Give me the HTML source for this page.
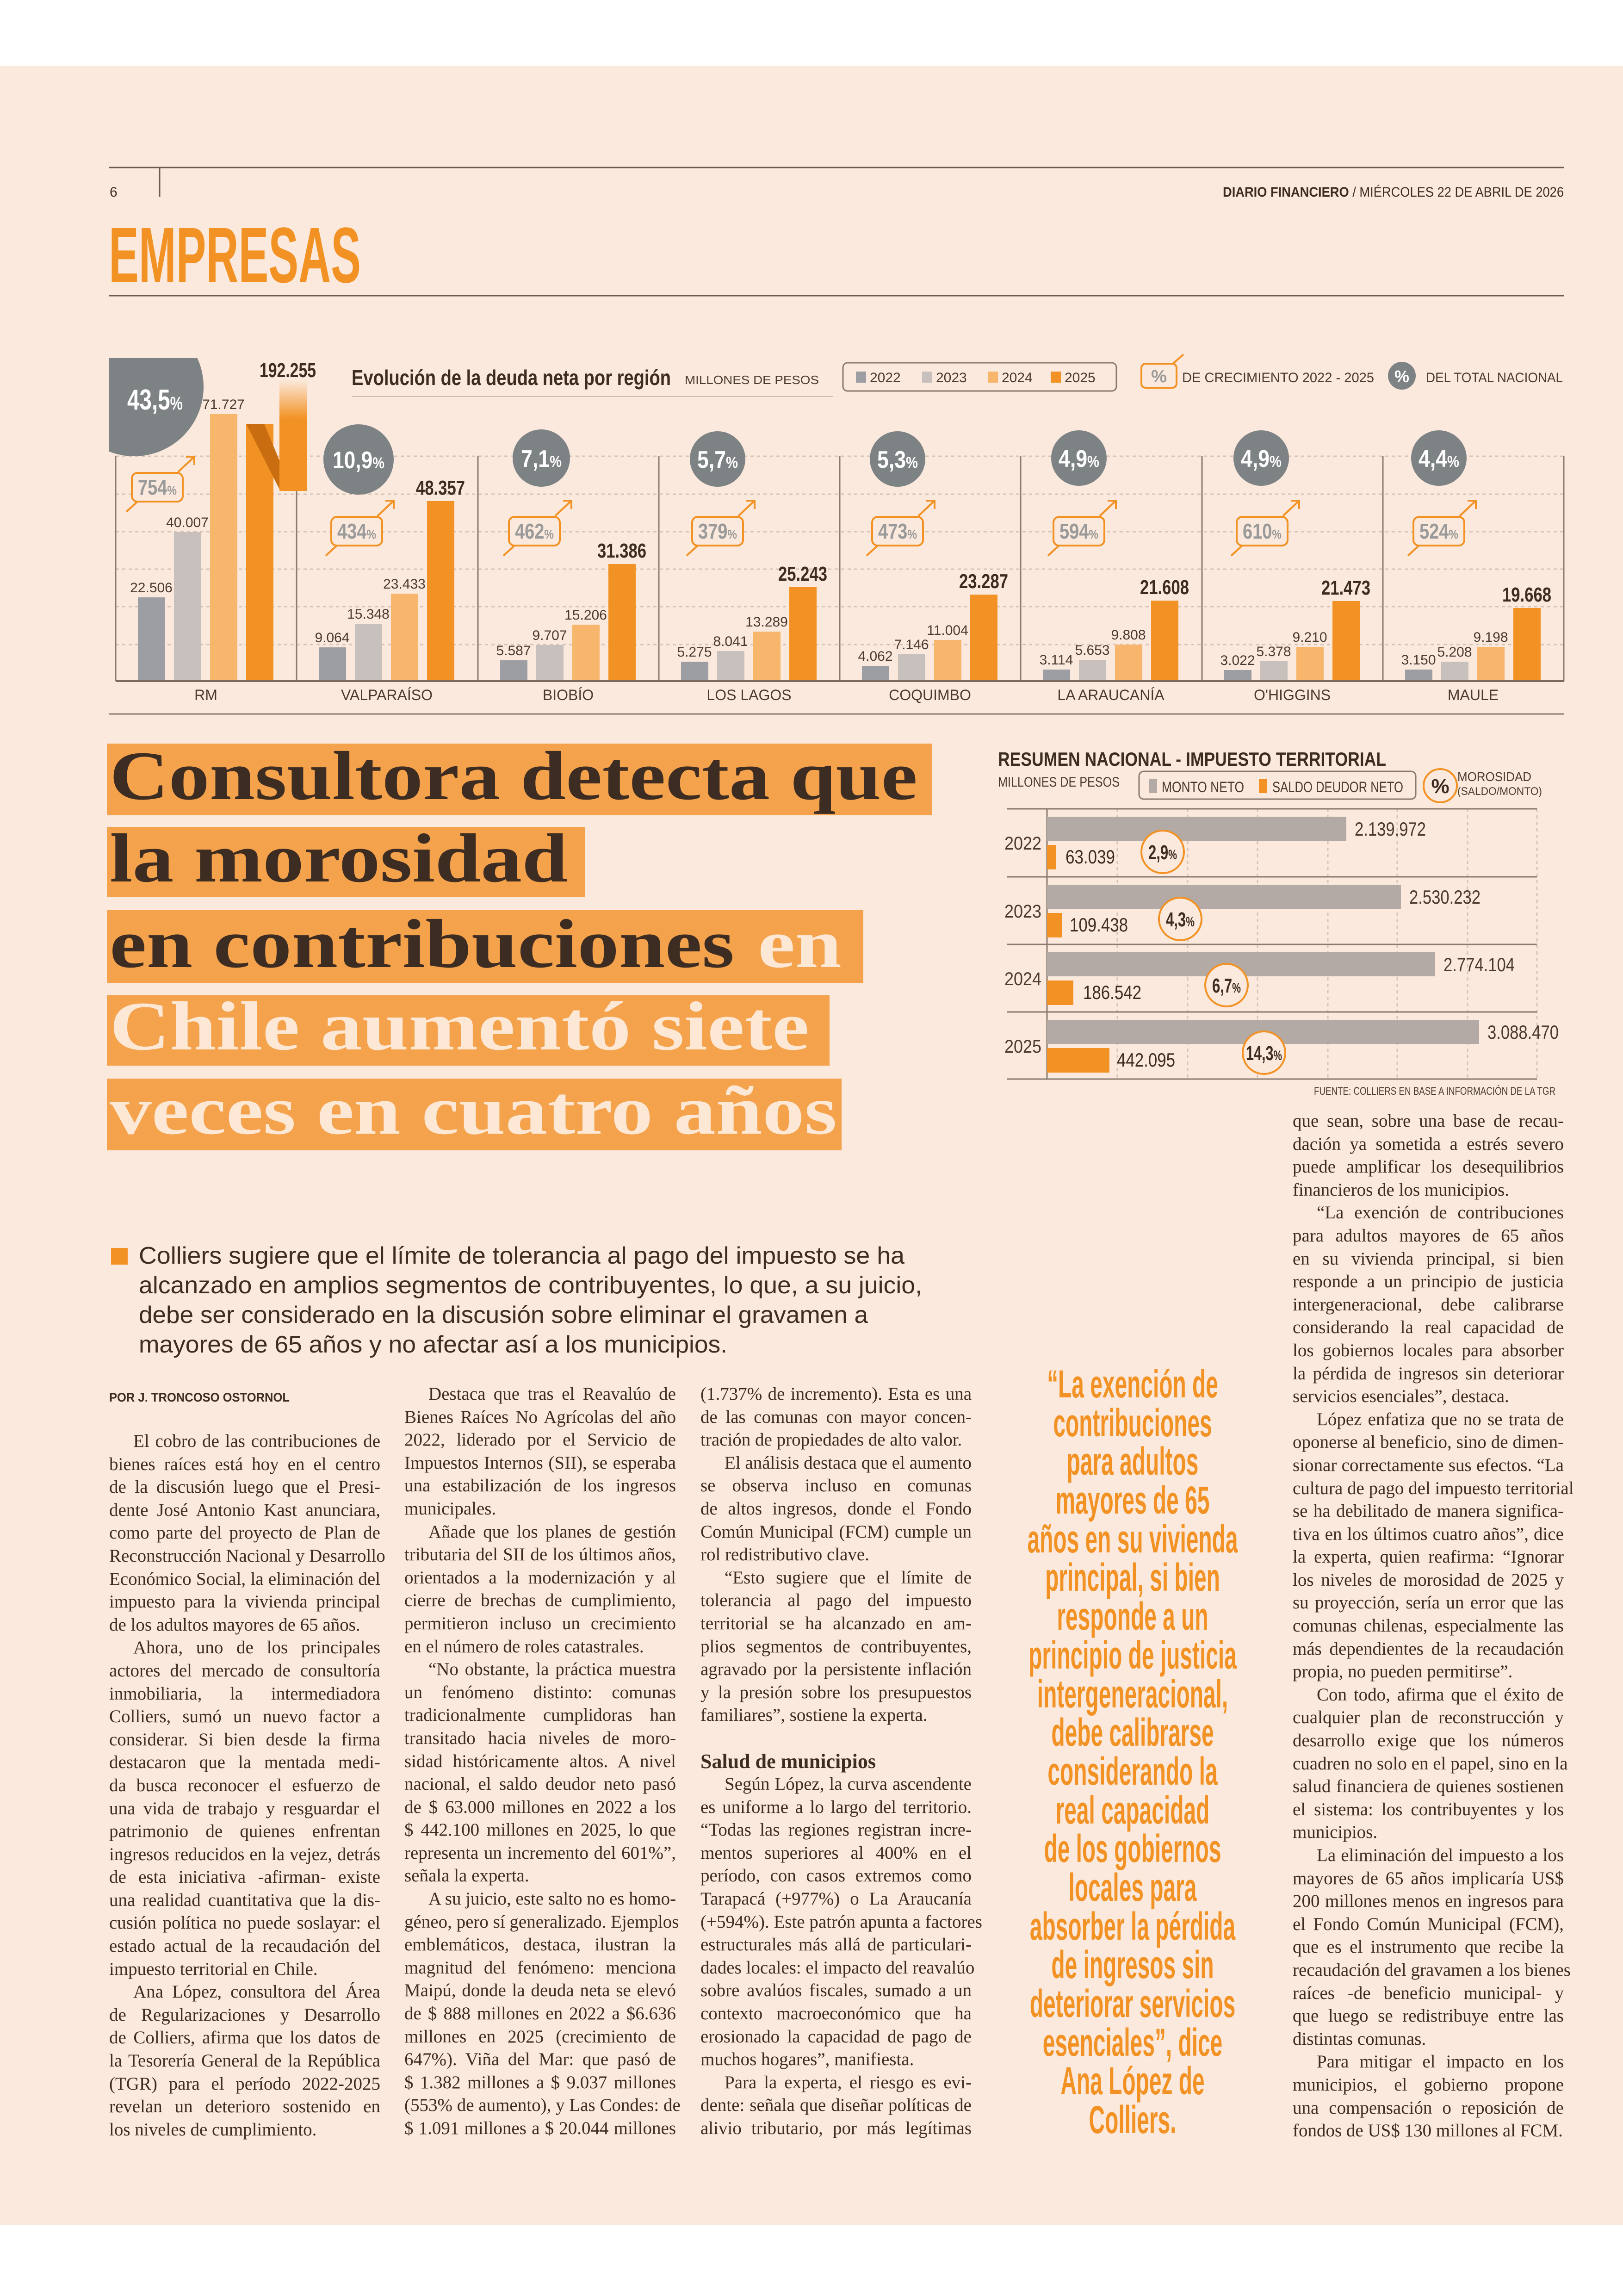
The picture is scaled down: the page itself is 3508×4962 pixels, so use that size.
<!DOCTYPE html>
<html><head><meta charset="utf-8">
<style>
html,body{margin:0;padding:0}
body{width:3508px;height:4962px;position:relative;background:#fff;overflow:hidden;font-family:"Liberation Serif",serif;color:#3d2c22}
.bg{position:absolute;left:0;top:142px;width:3508px;height:4666px;background:#fae9dc}
svg{position:absolute;left:0;top:0}
.col{position:absolute;font-family:"Liberation Serif",serif;font-size:39px;color:#3d2c22}
.col div{height:49.6px;line-height:49.6px;white-space:nowrap;text-align:justify;text-align-last:justify}
.col div.l{text-align-last:left}
.col div.i{padding-left:52px}
.col div.h{font-weight:bold;font-size:44px;text-align-last:left}
.col div.e{}
.q{position:absolute;left:1948px;top:2950px;width:1000px;transform:scaleX(0.57);transform-origin:500px 0;font-family:"Liberation Sans",sans-serif;font-weight:bold;font-size:84px;color:#f39224;text-align:center}
.q div{height:83.7px;line-height:83.7px;white-space:nowrap}
</style></head><body>
<div class="bg"></div>
<svg width="3508" height="4962" viewBox="0 0 3508 4962" xmlns="http://www.w3.org/2000/svg" font-family="Liberation Sans, sans-serif">
<defs>
<clipPath id="rmc"><rect x="235" y="774" width="320" height="320"/></clipPath>
<linearGradient id="fade" x1="0" y1="0" x2="0" y2="1"><stop offset="0" stop-color="#fae9dc"/><stop offset="0.35" stop-color="#f39224"/></linearGradient>
</defs>
<!-- header -->
<line x1="235" y1="362" x2="3380" y2="362" stroke="#6b5b50" stroke-width="3"/>
<line x1="345" y1="362" x2="345" y2="425" stroke="#6b5b50" stroke-width="3"/>
<text x="237" y="425" font-size="30" fill="#3d2c22">6</text>
<text x="3380" y="425" font-size="30" fill="#3d2c22" text-anchor="end" textLength="737" lengthAdjust="spacingAndGlyphs"><tspan font-weight="bold">DIARIO FINANCIERO</tspan> / MIÉRCOLES 22 DE ABRIL DE 2026</text>
<text x="235" y="610" font-size="170" font-weight="bold" fill="#f39224" textLength="545" lengthAdjust="spacingAndGlyphs">EMPRESAS</text>
<line x1="235" y1="639" x2="3380" y2="639" stroke="#6b5b50" stroke-width="3"/>

<!-- legend top chart -->
<text x="760" y="832" font-size="46" font-weight="bold" fill="#3d2c22" textLength="690" lengthAdjust="spacingAndGlyphs">Evolución de la deuda neta por región</text>
<line x1="760" y1="857" x2="1800" y2="857" stroke="#cdbcb0" stroke-width="2"/>
<text x="1480" y="830" font-size="26" fill="#4a3a30" textLength="290" lengthAdjust="spacingAndGlyphs">MILLONES DE PESOS</text>
<rect x="1822" y="784" width="591" height="61" rx="10" fill="none" stroke="#8a7a70" stroke-width="3"/>
<rect x="1850" y="803" width="22" height="24" fill="#9c9ea3"/><text x="1880" y="826" font-size="30" fill="#4a3a30">2022</text>
<rect x="1993" y="803" width="22" height="24" fill="#c8c0bc"/><text x="2023" y="826" font-size="30" fill="#4a3a30">2023</text>
<rect x="2135" y="803" width="22" height="24" fill="#f7b66c"/><text x="2165" y="826" font-size="30" fill="#4a3a30">2024</text>
<rect x="2271" y="803" width="22" height="24" fill="#f39224"/><text x="2301" y="826" font-size="30" fill="#4a3a30">2025</text>
<rect x="2467" y="786" width="76" height="52" rx="9" fill="none" stroke="#f39224" stroke-width="4"/>
<text x="2505" y="826" font-size="38" font-weight="bold" fill="#9a9a9a" text-anchor="middle">%</text>
<line x1="2535" y1="786" x2="2558" y2="766" stroke="#f39224" stroke-width="4"/>
<text x="2555" y="826" font-size="30" fill="#4a3a30" textLength="415" lengthAdjust="spacingAndGlyphs">DE CRECIMIENTO 2022 - 2025</text>
<circle cx="3030" cy="812" r="30" fill="#7d8285"/>
<text x="3030" y="826" font-size="36" font-weight="bold" fill="#fff" text-anchor="middle">%</text>
<text x="3082" y="826" font-size="30" fill="#4a3a30" textLength="296" lengthAdjust="spacingAndGlyphs">DEL TOTAL NACIONAL</text>

<!-- grid -->
<g stroke="#d6c4b6" stroke-width="3" stroke-dasharray="7 7">
<line x1="250" y1="986" x2="3380" y2="986"/><line x1="250" y1="1068" x2="3380" y2="1068"/>
<line x1="250" y1="1149" x2="3380" y2="1149"/><line x1="250" y1="1230" x2="3380" y2="1230"/>
<line x1="250" y1="1311" x2="3380" y2="1311"/><line x1="250" y1="1393" x2="3380" y2="1393"/>
</g>
<g stroke="#8a7a70" stroke-width="3">
<line x1="250" y1="986" x2="250" y2="1472"/><line x1="641" y1="986" x2="641" y2="1472"/>
<line x1="1033" y1="986" x2="1033" y2="1472"/><line x1="1424" y1="986" x2="1424" y2="1472"/>
<line x1="1815" y1="986" x2="1815" y2="1472"/><line x1="2206" y1="986" x2="2206" y2="1472"/>
<line x1="2598" y1="986" x2="2598" y2="1472"/><line x1="2989" y1="986" x2="2989" y2="1472"/>
<line x1="3380" y1="986" x2="3380" y2="1472"/>
</g>

<!-- RM circle -->
<circle cx="290" cy="836" r="150" fill="#7d8285" clip-path="url(#rmc)"/>
<text x="335" y="885" font-size="62" font-weight="bold" fill="#fff" text-anchor="middle" textLength="120" lengthAdjust="spacingAndGlyphs">43,5<tspan font-size="40">%</tspan></text>

<!-- bars -->
<g>
<!-- RM 250 -->
<rect x="298" y="1291" width="59" height="181" fill="#9c9ea3"/>
<rect x="376" y="1150" width="59" height="322" fill="#c8c0bc"/>
<rect x="454" y="895" width="59" height="577" fill="#f7b66c"/>
<rect x="532" y="916" width="59" height="556" fill="#f39224"/>
<polygon points="532,916 571,916 606,1000 606,1061" fill="#c96e10"/>
<rect x="604" y="821" width="60" height="240" fill="url(#fade)"/>
<!-- Valp 641 -->
<rect x="689" y="1399" width="59" height="73" fill="#9c9ea3"/>
<rect x="767" y="1348" width="59" height="124" fill="#c8c0bc"/>
<rect x="845" y="1283" width="59" height="189" fill="#f7b66c"/>
<rect x="923" y="1083" width="59" height="389" fill="#f39224"/>
<!-- Bio 1033 -->
<rect x="1081" y="1427" width="59" height="45" fill="#9c9ea3"/>
<rect x="1159" y="1394" width="59" height="78" fill="#c8c0bc"/>
<rect x="1237" y="1350" width="59" height="122" fill="#f7b66c"/>
<rect x="1315" y="1219" width="59" height="253" fill="#f39224"/>
<!-- LL 1424 -->
<rect x="1472" y="1430" width="59" height="42" fill="#9c9ea3"/>
<rect x="1550" y="1407" width="59" height="65" fill="#c8c0bc"/>
<rect x="1628" y="1365" width="59" height="107" fill="#f7b66c"/>
<rect x="1706" y="1269" width="59" height="203" fill="#f39224"/>
<!-- Coq 1815 -->
<rect x="1863" y="1439" width="59" height="33" fill="#9c9ea3"/>
<rect x="1941" y="1414" width="59" height="58" fill="#c8c0bc"/>
<rect x="2019" y="1383" width="59" height="89" fill="#f7b66c"/>
<rect x="2097" y="1285" width="59" height="187" fill="#f39224"/>
<!-- Ara 2206 -->
<rect x="2254" y="1447" width="59" height="25" fill="#9c9ea3"/>
<rect x="2332" y="1426" width="59" height="46" fill="#c8c0bc"/>
<rect x="2410" y="1393" width="59" height="79" fill="#f7b66c"/>
<rect x="2488" y="1298" width="59" height="174" fill="#f39224"/>
<!-- OH 2598 -->
<rect x="2646" y="1448" width="59" height="24" fill="#9c9ea3"/>
<rect x="2724" y="1429" width="59" height="43" fill="#c8c0bc"/>
<rect x="2802" y="1398" width="59" height="74" fill="#f7b66c"/>
<rect x="2880" y="1299" width="59" height="173" fill="#f39224"/>
<!-- Maule 2989 -->
<rect x="3037" y="1447" width="59" height="25" fill="#9c9ea3"/>
<rect x="3115" y="1430" width="59" height="42" fill="#c8c0bc"/>
<rect x="3193" y="1398" width="59" height="74" fill="#f7b66c"/>
<rect x="3271" y="1314" width="59" height="158" fill="#f39224"/>
</g>
<line x1="250" y1="1472" x2="3380" y2="1472" stroke="#7a6a60" stroke-width="4"/>

<!-- value labels -->
<g font-size="30" fill="#4a3a30" text-anchor="middle">
<text x="327" y="1280">22.506</text><text x="405" y="1139">40.007</text><text x="483" y="884">71.727</text>
<text x="718" y="1388">9.064</text><text x="796" y="1337">15.348</text><text x="874" y="1272">23.433</text>
<text x="1110" y="1416">5.587</text><text x="1188" y="1383">9.707</text><text x="1266" y="1339">15.206</text>
<text x="1501" y="1419">5.275</text><text x="1579" y="1396">8.041</text><text x="1657" y="1354">13.289</text>
<text x="1892" y="1428">4.062</text><text x="1970" y="1403">7.146</text><text x="2048" y="1372">11.004</text>
<text x="2283" y="1436">3.114</text><text x="2361" y="1415">5.653</text><text x="2439" y="1382">9.808</text>
<text x="2675" y="1437">3.022</text><text x="2753" y="1418">5.378</text><text x="2831" y="1387">9.210</text>
<text x="3066" y="1436">3.150</text><text x="3144" y="1419">5.208</text><text x="3222" y="1387">9.198</text>
</g>
<g font-size="44" font-weight="bold" fill="#3d2c22" text-anchor="middle">
<text x="622" y="815" textLength="122" lengthAdjust="spacingAndGlyphs">192.255</text>
<text x="952" y="1069" textLength="106" lengthAdjust="spacingAndGlyphs">48.357</text>
<text x="1344" y="1205" textLength="106" lengthAdjust="spacingAndGlyphs">31.386</text>
<text x="1735" y="1255" textLength="106" lengthAdjust="spacingAndGlyphs">25.243</text>
<text x="2126" y="1271" textLength="106" lengthAdjust="spacingAndGlyphs">23.287</text>
<text x="2517" y="1284" textLength="106" lengthAdjust="spacingAndGlyphs">21.608</text>
<text x="2909" y="1285" textLength="106" lengthAdjust="spacingAndGlyphs">21.473</text>
<text x="3300" y="1300" textLength="106" lengthAdjust="spacingAndGlyphs">19.668</text>
</g>
<g font-size="32" fill="#4a3a30" text-anchor="middle">
<text x="445" y="1513">RM</text><text x="836" y="1513">VALPARAÍSO</text><text x="1228" y="1513">BIOBÍO</text>
<text x="1619" y="1513">LOS LAGOS</text><text x="2010" y="1513">COQUIMBO</text><text x="2401" y="1513">LA ARAUCANÍA</text>
<text x="2793" y="1513">O'HIGGINS</text><text x="3184" y="1513">MAULE</text>
</g>

<!-- region circles -->
<g fill="#7d8285">
<circle cx="775" cy="993" r="76"/><circle cx="1170" cy="990" r="62"/><circle cx="1551" cy="992" r="60"/>
<circle cx="1940" cy="992" r="60"/><circle cx="2332" cy="990" r="60"/><circle cx="2726" cy="990" r="60"/><circle cx="3110" cy="990" r="60"/>
</g>
<g font-size="52" font-weight="bold" fill="#fff" text-anchor="middle">
<text x="775" y="1012" textLength="112" lengthAdjust="spacingAndGlyphs">10,9<tspan font-size="34">%</tspan></text>
<text x="1170" y="1009" textLength="88" lengthAdjust="spacingAndGlyphs">7,1<tspan font-size="34">%</tspan></text>
<text x="1551" y="1011" textLength="88" lengthAdjust="spacingAndGlyphs">5,7<tspan font-size="34">%</tspan></text>
<text x="1940" y="1011" textLength="88" lengthAdjust="spacingAndGlyphs">5,3<tspan font-size="34">%</tspan></text>
<text x="2332" y="1009" textLength="88" lengthAdjust="spacingAndGlyphs">4,9<tspan font-size="34">%</tspan></text>
<text x="2726" y="1009" textLength="88" lengthAdjust="spacingAndGlyphs">4,9<tspan font-size="34">%</tspan></text>
<text x="3110" y="1009" textLength="88" lengthAdjust="spacingAndGlyphs">4,4<tspan font-size="34">%</tspan></text>
</g>

<!-- growth badges -->
<g id="badges" font-size="46" font-weight="bold" fill="#9a9a9a" text-anchor="middle">
<g transform="translate(285,1022)"><rect width="110" height="62" rx="12" fill="#fae9dc" stroke="#f39224" stroke-width="4"/><text x="55" y="47" textLength="84" lengthAdjust="spacingAndGlyphs">754<tspan font-size="28">%</tspan></text><path d="M100 -2 L135 -35 M117 -35 L135 -35 L135 -17 M12 62 L-12 84" stroke="#f39224" stroke-width="4" fill="none"/></g>
<g transform="translate(716,1117)"><rect width="110" height="62" rx="12" fill="#fae9dc" stroke="#f39224" stroke-width="4"/><text x="55" y="47" textLength="84" lengthAdjust="spacingAndGlyphs">434<tspan font-size="28">%</tspan></text><path d="M100 -2 L135 -35 M117 -35 L135 -35 L135 -17 M12 62 L-12 84" stroke="#f39224" stroke-width="4" fill="none"/></g>
<g transform="translate(1100,1117)"><rect width="110" height="62" rx="12" fill="#fae9dc" stroke="#f39224" stroke-width="4"/><text x="55" y="47" textLength="84" lengthAdjust="spacingAndGlyphs">462<tspan font-size="28">%</tspan></text><path d="M100 -2 L135 -35 M117 -35 L135 -35 L135 -17 M12 62 L-12 84" stroke="#f39224" stroke-width="4" fill="none"/></g>
<g transform="translate(1496,1117)"><rect width="110" height="62" rx="12" fill="#fae9dc" stroke="#f39224" stroke-width="4"/><text x="55" y="47" textLength="84" lengthAdjust="spacingAndGlyphs">379<tspan font-size="28">%</tspan></text><path d="M100 -2 L135 -35 M117 -35 L135 -35 L135 -17 M12 62 L-12 84" stroke="#f39224" stroke-width="4" fill="none"/></g>
<g transform="translate(1885,1117)"><rect width="110" height="62" rx="12" fill="#fae9dc" stroke="#f39224" stroke-width="4"/><text x="55" y="47" textLength="84" lengthAdjust="spacingAndGlyphs">473<tspan font-size="28">%</tspan></text><path d="M100 -2 L135 -35 M117 -35 L135 -35 L135 -17 M12 62 L-12 84" stroke="#f39224" stroke-width="4" fill="none"/></g>
<g transform="translate(2277,1117)"><rect width="110" height="62" rx="12" fill="#fae9dc" stroke="#f39224" stroke-width="4"/><text x="55" y="47" textLength="84" lengthAdjust="spacingAndGlyphs">594<tspan font-size="28">%</tspan></text><path d="M100 -2 L135 -35 M117 -35 L135 -35 L135 -17 M12 62 L-12 84" stroke="#f39224" stroke-width="4" fill="none"/></g>
<g transform="translate(2673,1117)"><rect width="110" height="62" rx="12" fill="#fae9dc" stroke="#f39224" stroke-width="4"/><text x="55" y="47" textLength="84" lengthAdjust="spacingAndGlyphs">610<tspan font-size="28">%</tspan></text><path d="M100 -2 L135 -35 M117 -35 L135 -35 L135 -17 M12 62 L-12 84" stroke="#f39224" stroke-width="4" fill="none"/></g>
<g transform="translate(3055,1117)"><rect width="110" height="62" rx="12" fill="#fae9dc" stroke="#f39224" stroke-width="4"/><text x="55" y="47" textLength="84" lengthAdjust="spacingAndGlyphs">524<tspan font-size="28">%</tspan></text><path d="M100 -2 L135 -35 M117 -35 L135 -35 L135 -17 M12 62 L-12 84" stroke="#f39224" stroke-width="4" fill="none"/></g>
</g>
<line x1="235" y1="1543" x2="3380" y2="1543" stroke="#8a7a70" stroke-width="3"/>

<!-- headline -->
<g fill="#f5a24d">
<rect x="231" y="1607" width="1784" height="155"/>
<rect x="231" y="1787" width="1034" height="152"/>
<rect x="231" y="1967" width="1635" height="158"/>
<rect x="231" y="2151" width="1562" height="152"/>
<rect x="231" y="2331" width="1588" height="155"/>
</g>
<g font-family="Liberation Serif, serif" font-size="150" font-weight="bold" lengthAdjust="spacingAndGlyphs">
<text x="237" y="1727" fill="#3d2c22" textLength="1746" lengthAdjust="spacingAndGlyphs">Consultora detecta que</text>
<text x="237" y="1905" fill="#3d2c22" textLength="990" lengthAdjust="spacingAndGlyphs">la morosidad</text>
<text x="237" y="2090" fill="#3d2c22" textLength="1350" lengthAdjust="spacingAndGlyphs">en contribuciones</text>
<text x="1638" y="2090" fill="#fde8d6" textLength="181" lengthAdjust="spacingAndGlyphs">en</text>
<text x="237" y="2268" fill="#fde8d6" textLength="1512" lengthAdjust="spacingAndGlyphs">Chile aumentó siete</text>
<text x="237" y="2450" fill="#fde8d6" textLength="1572" lengthAdjust="spacingAndGlyphs">veces en cuatro años</text>
</g>

<!-- summary chart -->
<text x="2157" y="1655" font-size="42" font-weight="bold" fill="#3d2c22" textLength="839" lengthAdjust="spacingAndGlyphs">RESUMEN NACIONAL - IMPUESTO TERRITORIAL</text>
<text x="2157" y="1700" font-size="30" fill="#4a3a30" textLength="263" lengthAdjust="spacingAndGlyphs">MILLONES DE PESOS</text>
<rect x="2462" y="1667" width="598" height="60" rx="10" fill="none" stroke="#8a7a70" stroke-width="3"/>
<rect x="2483" y="1684" width="18" height="30" fill="#b3aaa6"/>
<text x="2511" y="1712" font-size="32" fill="#4a3a30" textLength="178" lengthAdjust="spacingAndGlyphs">MONTO NETO</text>
<rect x="2721" y="1684" width="18" height="30" fill="#f39224"/>
<text x="2750" y="1712" font-size="32" fill="#4a3a30" textLength="283" lengthAdjust="spacingAndGlyphs">SALDO DEUDOR NETO</text>
<circle cx="3113" cy="1698" r="36" fill="none" stroke="#f39224" stroke-width="4"/>
<text x="3113" y="1714" font-size="44" font-weight="bold" fill="#3d2c22" text-anchor="middle">%</text>
<text x="3150" y="1688" font-size="28" fill="#4a3a30" textLength="160" lengthAdjust="spacingAndGlyphs">MOROSIDAD</text>
<text x="3150" y="1718" font-size="24" fill="#4a3a30" textLength="183" lengthAdjust="spacingAndGlyphs">(SALDO/MONTO)</text>
<g stroke="#d6c4b6" stroke-width="3" stroke-dasharray="7 7">
<line x1="2415" y1="1748" x2="2415" y2="2332"/><line x1="2567" y1="1748" x2="2567" y2="2332"/>
<line x1="2718" y1="1748" x2="2718" y2="2332"/><line x1="2870" y1="1748" x2="2870" y2="2332"/>
<line x1="3020" y1="1748" x2="3020" y2="2332"/><line x1="3172" y1="1748" x2="3172" y2="2332"/>
<line x1="3322" y1="1748" x2="3322" y2="2332"/>
</g>
<g stroke="#8a7a70" stroke-width="3">
<line x1="2176" y1="1748" x2="3322" y2="1748"/><line x1="2176" y1="1895" x2="3322" y2="1895"/>
<line x1="2176" y1="2041" x2="3322" y2="2041"/><line x1="2176" y1="2187" x2="3322" y2="2187"/>
<line x1="2176" y1="2332" x2="3322" y2="2332"/><line x1="2263" y1="1748" x2="2263" y2="2332"/>
</g>
<g fill="#b3aaa6">
<rect x="2263" y="1765" width="647" height="52"/><rect x="2263" y="1912" width="765" height="52"/>
<rect x="2263" y="2058" width="839" height="52"/><rect x="2263" y="2204" width="934" height="52"/>
</g>
<g fill="#f39224">
<rect x="2263" y="1826" width="19" height="53"/><rect x="2263" y="1973" width="33" height="53"/>
<rect x="2263" y="2119" width="57" height="53"/><rect x="2263" y="2265" width="135" height="53"/>
</g>
<g font-size="40" fill="#4a3a30">
<text x="2171" y="1836" textLength="80" lengthAdjust="spacingAndGlyphs">2022</text>
<text x="2171" y="1983" textLength="80" lengthAdjust="spacingAndGlyphs">2023</text>
<text x="2171" y="2129" textLength="80" lengthAdjust="spacingAndGlyphs">2024</text>
<text x="2171" y="2275" textLength="80" lengthAdjust="spacingAndGlyphs">2025</text>
</g>
<g font-size="42" fill="#4a3a30">
<text x="2928" y="1806" textLength="154" lengthAdjust="spacingAndGlyphs">2.139.972</text>
<text x="3046" y="1953" textLength="154" lengthAdjust="spacingAndGlyphs">2.530.232</text>
<text x="3120" y="2099" textLength="154" lengthAdjust="spacingAndGlyphs">2.774.104</text>
<text x="3215" y="2245" textLength="154" lengthAdjust="spacingAndGlyphs">3.088.470</text>
</g>
<g font-size="42" fill="#3d2c22">
<text x="2303" y="1866" textLength="107" lengthAdjust="spacingAndGlyphs">63.039</text>
<text x="2312" y="2013" textLength="126" lengthAdjust="spacingAndGlyphs">109.438</text>
<text x="2341" y="2159" textLength="126" lengthAdjust="spacingAndGlyphs">186.542</text>
<text x="2414" y="2305" textLength="126" lengthAdjust="spacingAndGlyphs">442.095</text>
</g>
<g fill="#fae9dc" stroke="#f39224" stroke-width="4">
<circle cx="2513" cy="1841" r="46"/><circle cx="2551" cy="1986" r="46"/>
<circle cx="2651" cy="2129" r="46"/><circle cx="2732" cy="2275" r="46"/>
</g>
<g font-size="44" font-weight="bold" fill="#3d2c22" text-anchor="middle">
<text x="2513" y="1857" textLength="62" lengthAdjust="spacingAndGlyphs">2,9<tspan font-size="30">%</tspan></text>
<text x="2551" y="2002" textLength="62" lengthAdjust="spacingAndGlyphs">4,3<tspan font-size="30">%</tspan></text>
<text x="2651" y="2145" textLength="62" lengthAdjust="spacingAndGlyphs">6,7<tspan font-size="30">%</tspan></text>
<text x="2732" y="2291" textLength="78" lengthAdjust="spacingAndGlyphs">14,3<tspan font-size="30">%</tspan></text>
</g>
<text x="3362" y="2366" font-size="24" fill="#4a3a30" text-anchor="end" textLength="522" lengthAdjust="spacingAndGlyphs">FUENTE: COLLIERS EN BASE A INFORMACIÓN DE LA TGR</text>

<!-- deck -->
<rect x="240" y="2697" width="36" height="36" fill="#f39224"/>
<g font-size="52" fill="#3d2c22">
<text x="300" y="2731" textLength="1655" lengthAdjust="spacingAndGlyphs">Colliers sugiere que el límite de tolerancia al pago del impuesto se ha</text>
<text x="300" y="2795" textLength="1693" lengthAdjust="spacingAndGlyphs">alcanzado en amplios segmentos de contribuyentes, lo que, a su juicio,</text>
<text x="300" y="2859" textLength="1576" lengthAdjust="spacingAndGlyphs">debe ser considerado en la discusión sobre eliminar el gravamen a</text>
<text x="300" y="2923" textLength="1272" lengthAdjust="spacingAndGlyphs">mayores de 65 años y no afectar así a los municipios.</text>
</g>
<text x="236" y="3029" font-size="27" font-weight="bold" fill="#3d2c22" textLength="390" lengthAdjust="spacingAndGlyphs">POR J. TRONCOSO OSTORNOL</text>
</svg>

<div class="col" style="left:236px;top:3090px;width:586px">
<div class="i">El cobro de las contribuciones de</div>
<div>bienes raíces está hoy en el centro</div>
<div>de la discusión luego que el Presi-</div>
<div>dente José Antonio Kast anunciara,</div>
<div>como parte del proyecto de Plan de</div>
<div>Reconstrucción Nacional y Desarrollo</div>
<div>Económico Social, la eliminación del</div>
<div>impuesto para la vivienda principal</div>
<div class="l">de los adultos mayores de 65 años.</div>
<div class="i">Ahora, uno de los principales</div>
<div>actores del mercado de consultoría</div>
<div>inmobiliaria, la intermediadora</div>
<div>Colliers, sumó un nuevo factor a</div>
<div>considerar. Si bien desde la firma</div>
<div>destacaron que la mentada medi-</div>
<div>da busca reconocer el esfuerzo de</div>
<div>una vida de trabajo y resguardar el</div>
<div>patrimonio de quienes enfrentan</div>
<div>ingresos reducidos en la vejez, detrás</div>
<div>de esta iniciativa -afirman- existe</div>
<div>una realidad cuantitativa que la dis-</div>
<div>cusión política no puede soslayar: el</div>
<div>estado actual de la recaudación del</div>
<div class="l">impuesto territorial en Chile.</div>
<div class="i">Ana López, consultora del Área</div>
<div>de Regularizaciones y Desarrollo</div>
<div>de Colliers, afirma que los datos de</div>
<div>la Tesorería General de la República</div>
<div>(TGR) para el período 2022-2025</div>
<div>revelan un deterioro sostenido en</div>
<div class="l">los niveles de cumplimiento.</div>
</div>

<div class="col" style="left:874px;top:2988px;width:587px">
<div class="i">Destaca que tras el Reavalúo de</div>
<div>Bienes Raíces No Agrícolas del año</div>
<div>2022, liderado por el Servicio de</div>
<div>Impuestos Internos (SII), se esperaba</div>
<div>una estabilización de los ingresos</div>
<div class="l">municipales.</div>
<div class="i">Añade que los planes de gestión</div>
<div>tributaria del SII de los últimos años,</div>
<div>orientados a la modernización y al</div>
<div>cierre de brechas de cumplimiento,</div>
<div>permitieron incluso un crecimiento</div>
<div class="l">en el número de roles catastrales.</div>
<div class="i">“No obstante, la práctica muestra</div>
<div>un fenómeno distinto: comunas</div>
<div>tradicionalmente cumplidoras han</div>
<div>transitado hacia niveles de moro-</div>
<div>sidad históricamente altos. A nivel</div>
<div>nacional, el saldo deudor neto pasó</div>
<div>de $ 63.000 millones en 2022 a los</div>
<div>$ 442.100 millones en 2025, lo que</div>
<div>representa un incremento del 601%”,</div>
<div class="l">señala la experta.</div>
<div class="i">A su juicio, este salto no es homo-</div>
<div>géneo, pero sí generalizado. Ejemplos</div>
<div>emblemáticos, destaca, ilustran la</div>
<div>magnitud del fenómeno: menciona</div>
<div>Maipú, donde la deuda neta se elevó</div>
<div>de $ 888 millones en 2022 a $6.636</div>
<div>millones en 2025 (crecimiento de</div>
<div>647%). Viña del Mar: que pasó de</div>
<div>$ 1.382 millones a $ 9.037 millones</div>
<div>(553% de aumento), y Las Condes: de</div>
<div>$ 1.091 millones a $ 20.044 millones</div>
</div>

<div class="col" style="left:1514px;top:2988px;width:586px">
<div>(1.737% de incremento). Esta es una</div>
<div>de las comunas con mayor concen-</div>
<div class="l">tración de propiedades de alto valor.</div>
<div class="i">El análisis destaca que el aumento</div>
<div>se observa incluso en comunas</div>
<div>de altos ingresos, donde el Fondo</div>
<div>Común Municipal (FCM) cumple un</div>
<div class="l">rol redistributivo clave.</div>
<div class="i">“Esto sugiere que el límite de</div>
<div>tolerancia al pago del impuesto</div>
<div>territorial se ha alcanzado en am-</div>
<div>plios segmentos de contribuyentes,</div>
<div>agravado por la persistente inflación</div>
<div>y la presión sobre los presupuestos</div>
<div class="l">familiares”, sostiene la experta.</div>
<div class="l"></div>
<div class="h">Salud de municipios</div>
<div class="i">Según López, la curva ascendente</div>
<div>es uniforme a lo largo del territorio.</div>
<div>“Todas las regiones registran incre-</div>
<div>mentos superiores al 400% en el</div>
<div>período, con casos extremos como</div>
<div>Tarapacá (+977%) o La Araucanía</div>
<div>(+594%). Este patrón apunta a factores</div>
<div>estructurales más allá de particulari-</div>
<div>dades locales: el impacto del reavalúo</div>
<div>sobre avalúos fiscales, sumado a un</div>
<div>contexto macroeconómico que ha</div>
<div>erosionado la capacidad de pago de</div>
<div class="l">muchos hogares”, manifiesta.</div>
<div class="i">Para la experta, el riesgo es evi-</div>
<div>dente: señala que diseñar políticas de</div>
<div>alivio tributario, por más legítimas</div>
</div>

<div class="q">
<div>“La exención de</div>
<div>contribuciones</div>
<div>para adultos</div>
<div>mayores de 65</div>
<div>años en su vivienda</div>
<div>principal, si bien</div>
<div>responde a un</div>
<div>principio de justicia</div>
<div>intergeneracional,</div>
<div>debe calibrarse</div>
<div>considerando la</div>
<div>real capacidad</div>
<div>de los gobiernos</div>
<div>locales para</div>
<div>absorber la pérdida</div>
<div>de ingresos sin</div>
<div>deteriorar servicios</div>
<div>esenciales”, dice</div>
<div>Ana López de</div>
<div>Colliers.</div>
</div>

<div class="col" style="left:2794px;top:2398px;width:586px">
<div>que sean, sobre una base de recau-</div>
<div>dación ya sometida a estrés severo</div>
<div>puede amplificar los desequilibrios</div>
<div class="l">financieros de los municipios.</div>
<div class="i">“La exención de contribuciones</div>
<div>para adultos mayores de 65 años</div>
<div>en su vivienda principal, si bien</div>
<div>responde a un principio de justicia</div>
<div>intergeneracional, debe calibrarse</div>
<div>considerando la real capacidad de</div>
<div>los gobiernos locales para absorber</div>
<div>la pérdida de ingresos sin deteriorar</div>
<div class="l">servicios esenciales”, destaca.</div>
<div class="i">López enfatiza que no se trata de</div>
<div>oponerse al beneficio, sino de dimen-</div>
<div>sionar correctamente sus efectos. “La</div>
<div>cultura de pago del impuesto territorial</div>
<div>se ha debilitado de manera significa-</div>
<div>tiva en los últimos cuatro años”, dice</div>
<div>la experta, quien reafirma: “Ignorar</div>
<div>los niveles de morosidad de 2025 y</div>
<div>su proyección, sería un error que las</div>
<div>comunas chilenas, especialmente las</div>
<div>más dependientes de la recaudación</div>
<div class="l">propia, no pueden permitirse”.</div>
<div class="i">Con todo, afirma que el éxito de</div>
<div>cualquier plan de reconstrucción y</div>
<div>desarrollo exige que los números</div>
<div>cuadren no solo en el papel, sino en la</div>
<div>salud financiera de quienes sostienen</div>
<div>el sistema: los contribuyentes y los</div>
<div class="l">municipios.</div>
<div class="i">La eliminación del impuesto a los</div>
<div>mayores de 65 años implicaría US$</div>
<div>200 millones menos en ingresos para</div>
<div>el Fondo Común Municipal (FCM),</div>
<div>que es el instrumento que recibe la</div>
<div>recaudación del gravamen a los bienes</div>
<div>raíces -de beneficio municipal- y</div>
<div>que luego se redistribuye entre las</div>
<div class="l">distintas comunas.</div>
<div class="i">Para mitigar el impacto en los</div>
<div>municipios, el gobierno propone</div>
<div>una compensación o reposición de</div>
<div class="l">fondos de US$ 130 millones al FCM.</div>
</div>
</body></html>
